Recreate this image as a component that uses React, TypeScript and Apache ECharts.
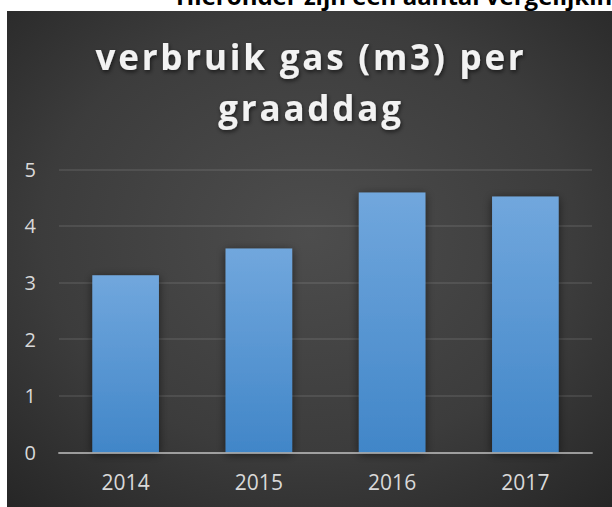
import React, { useEffect, useRef } from "react";
import * as echarts from "echarts";

const categories = ["2014", "2015", "2016", "2017"];
const values = [3.13, 3.6, 4.59, 4.52];
const yMin = 0;
const yMax = 5;
const yInterval = 1;
const titleLines = ["verbruik gas (m3) per", "graaddag"];
const pageText = "Hieronder zijn een aantal vergelijkingen";

export default function App() {
  const ref = useRef<HTMLDivElement>(null);

  useEffect(() => {
    if (!ref.current) return;
    const chart = echarts.init(ref.current, undefined, { renderer: "svg" });
    chart.setOption({
      animation: false,
      backgroundColor: "#ffffff",
      title: {
        text: titleLines.join("\n"),
        left: 311,
        top: 31,
        padding: 0,
        textAlign: "center",
        textStyle: {
          fontFamily: "Open Sans",
          fontWeight: "bold",
          fontSize: 35,
          lineHeight: 51,
          color: "#f2f2f2",
          textShadowColor: "rgba(0,0,0,0.6)",
          textShadowBlur: 4,
          textShadowOffsetX: 1,
          textShadowOffsetY: 2,
        },
      },
      graphic: [
        {
          type: "rect",
          z: -1,
          silent: true,
          shape: { x: 7, y: 11, width: 605, height: 496 },
          style: {
            fill: new echarts.graphic.RadialGradient(0.5, 0.45, 0.8, [
              { offset: 0, color: "#4d4d4d" },
              { offset: 0.55, color: "#3c3c3c" },
              { offset: 1, color: "#222222" },
            ]),
          },
        },
        {
          type: "text",
          x: 176,
          y: -4.5,
          silent: true,
          style: {
            text: pageText,
            fontFamily: "Open Sans",
            fontWeight: "bold",
            fontSize: 24,
            fill: "#000000",
            verticalAlign: "middle",
            align: "left",
          },
        },
      ],
      grid: {
        left: 59,
        right: 20,
        top: 169.3,
        bottom: 54.7,
        containLabel: false,
        outerBoundsMode: "none",
      },
      xAxis: {
        type: "category",
        data: categories,
        z: 3,
        axisLine: {
          show: true,
          lineStyle: { color: "rgba(217,217,217,0.6)", width: 2 },
        },
        axisTick: { show: false },
        axisLabel: {
          color: "#d9d9d9",
          fontFamily: "Open Sans",
          fontSize: 21,
          margin: 19,
        },
        splitLine: { show: false },
      },
      yAxis: {
        type: "value",
        min: yMin,
        max: yMax,
        interval: yInterval,
        axisLine: { show: false },
        axisTick: { show: false },
        axisLabel: {
          color: "#d9d9d9",
          fontFamily: "Open Sans",
          fontSize: 20,
          margin: 23,
        },
        splitLine: {
          lineStyle: { color: "rgba(217,217,217,0.15)", width: 1.5 },
        },
      },
      series: [
        {
          type: "bar",
          data: values,
          barWidth: "50%",
          itemStyle: {
            color: new echarts.graphic.LinearGradient(0, 0, 0, 1, [
              { offset: 0, color: "#71a7dd" },
              { offset: 1, color: "#4186c8" },
            ]),
            shadowColor: "rgba(0,0,0,0.55)",
            shadowBlur: 10,
            shadowOffsetX: 0,
            shadowOffsetY: 2,
          },
        },
      ],
    });

    // apply letter spacing to title lines (SVG renderer)
    const texts = ref.current.querySelectorAll("text");
    texts.forEach((t) => {
      const c = (t.textContent || "").trim();
      if (titleLines.includes(c)) {
        (t as SVGTextElement).style.letterSpacing = "2.8px";
      }
    });

    return () => {
      chart.dispose();
    };
  }, []);

  return (
    <div
      ref={ref}
      style={{ position: "absolute", left: 0, top: 0, width: 612, height: 507 }}
    />
  );
}
